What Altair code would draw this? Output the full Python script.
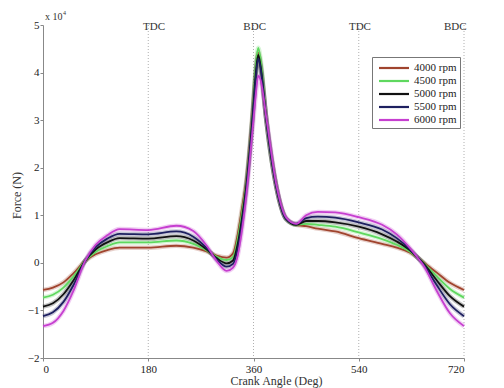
import altair as alt
import pandas as pd

angles = [0, 17, 35, 52, 72, 90, 110, 131, 180, 228, 257, 280, 297, 314, 325, 333, 341, 348, 358, 364,
          368, 372, 382, 399, 416, 433, 450, 470, 500, 540, 580, 605, 627, 640, 650, 673, 696, 720]

rpm_labels = ["4000 rpm", "4500 rpm", "5000 rpm", "5500 rpm", "6000 rpm"]

f4000 = [-0.57, -0.52, -0.41, -0.22, 0.04, 0.18, 0.27, 0.32, 0.32, 0.36, 0.32, 0.24, 0.15, 0.11, 0.2,
         0.6, 1.2, 1.75, 3.1, 4.05, 4.42, 4.2, 3.0, 1.6, 0.92, 0.8, 0.77, 0.72, 0.66, 0.52,
         0.40, 0.32, 0.22, 0.12, 0.02, -0.2, -0.42, -0.57]
f4500 = [-0.73, -0.67, -0.52, -0.29, 0.04, 0.23, 0.35, 0.43, 0.43, 0.47, 0.40, 0.26, 0.13, 0.06, 0.12,
         0.5, 1.1, 1.7, 3.05, 4.15, 4.52, 4.3, 3.0, 1.6, 0.92, 0.8, 0.82, 0.8, 0.76, 0.64,
         0.50, 0.38, 0.24, 0.12, 0.01, -0.28, -0.55, -0.73]
f5000 = [-0.92, -0.85, -0.66, -0.37, 0.04, 0.28, 0.43, 0.52, 0.51, 0.56, 0.47, 0.28, 0.10, -0.01, 0.05,
         0.4, 1.0, 1.65, 3.0, 4.0, 4.37, 4.15, 3.0, 1.6, 0.92, 0.8, 0.88, 0.88, 0.85, 0.76,
         0.60, 0.45, 0.27, 0.12, 0.0, -0.36, -0.70, -0.92]
f5500 = [-1.12, -1.04, -0.82, -0.47, 0.04, 0.33, 0.51, 0.61, 0.60, 0.66, 0.55, 0.31, 0.07, -0.08, -0.02,
         0.3, 0.9, 1.6, 2.95, 3.9, 4.3, 4.1, 3.0, 1.6, 0.92, 0.82, 0.94, 0.97, 0.95, 0.85,
         0.70, 0.52, 0.29, 0.12, -0.02, -0.46, -0.87, -1.12]
f6000 = [-1.33, -1.26, -1.01, -0.59, 0.04, 0.38, 0.58, 0.71, 0.69, 0.78, 0.67, 0.36, 0.04, -0.17, -0.1,
         0.15, 0.75, 1.45, 2.75, 3.55, 3.93, 3.85, 3.05, 1.65, 0.95, 0.82, 1.0, 1.07, 1.06, 0.96,
         0.80, 0.60, 0.32, 0.12, -0.04, -0.58, -1.06, -1.33]

series = [f4000, f4500, f5000, f5500, f6000]
colors = ["#a0442e", "#5fd85f", "#111111", "#1e2060", "#c63fd0"]

x_ticks = [0, 180, 360, 540, 720]
y_ticks = [-2, -1, 0, 1, 2, 3, 4, 5]
grid_x = [180, 360, 540, 720]
marker_names = ["TDC", "BDC", "TDC", "BDC"]
marker_x = [190, 362, 542, 705]

rows = []
for lab, vals in zip(rpm_labels, series):
    for a, v in zip(angles, vals):
        rows.append({"angle": a, "force": v, "rpm": lab})
df = pd.DataFrame(rows)

FONT = "Liberation Serif"

xscale = alt.Scale(domain=[0, 720], nice=False, zero=False)
yscale = alt.Scale(domain=[-2, 5], nice=False, zero=False)

color_enc = alt.Color(
    "rpm:N", scale=alt.Scale(domain=rpm_labels, range=colors),
    legend=alt.Legend(title=None, orient="none", legendX=329, legendY=32,
                      symbolType="M-2.22,0H2.22", symbolSize=182, symbolStrokeWidth=2.2,
                      symbolOffset=11, symbolOpacity=1,
                      labelFont=FONT, labelFontSize=11, labelColor="#222",
                      rowPadding=0, padding=3, strokeColor="#777",
                      fillColor="white", labelOffset=12))

x_enc = alt.X("angle:Q", scale=xscale,
              axis=alt.Axis(values=x_ticks, title="Crank Angle (Deg)", grid=False,
                            titleX=233, titleY=22, titleBaseline="middle",
                            labelPadding=2, tickSize=3))
y_enc = alt.Y("force:Q", scale=yscale,
              axis=alt.Axis(values=y_ticks, title="Force (N)", grid=False,
                            titleX=-20, titleY=170, labelPadding=1, tickSize=3))

grid = alt.Chart(pd.DataFrame({"g": grid_x})).mark_rule(
    color="#b0b0b0", strokeDash=[1, 2], strokeWidth=1
).encode(x=alt.X("g:Q", scale=xscale))

halo = alt.Chart(df).mark_line(interpolate="monotone", strokeWidth=4.5, opacity=0.25).encode(
    x=x_enc, y=y_enc, color=color_enc, order=alt.Order("rpm:N"),
)

lines = alt.Chart(df).mark_line(interpolate="monotone", strokeWidth=1.8).encode(
    x=x_enc, y=y_enc, color=color_enc, order=alt.Order("rpm:N"),
)

markers = alt.Chart(pd.DataFrame({"x": marker_x, "t": marker_names})).mark_text(
    font=FONT, fontSize=11, color="#333", baseline="middle", align="center"
).encode(x=alt.X("x:Q", scale=xscale), y=alt.value(2), text="t:N")

exp_base = alt.Chart(pd.DataFrame({"t": ["x 10"]})).mark_text(
    font=FONT, fontSize=10, color="#333", align="left", baseline="middle"
).encode(x=alt.value(2), y=alt.value(-8), text="t:N")
exp_sup = alt.Chart(pd.DataFrame({"t": ["4"]})).mark_text(
    font=FONT, fontSize=6, color="#333", align="left", baseline="middle"
).encode(x=alt.value(20), y=alt.value(-12), text="t:N")

chart = alt.layer(grid, halo, lines, markers, exp_base, exp_sup).properties(
    width=421, height=333,
    background="white",
    autosize=alt.AutoSizeParams(type="none"),
    padding={"left": 43, "top": 25, "right": 40, "bottom": 30},
).configure_view(stroke=None).configure_axis(
    labelFont=FONT, titleFont=FONT, labelFontSize=11, titleFontSize=12,
    labelColor="#222", titleColor="#333", domainColor="#888", tickColor="#888",
    titleFontWeight="normal"
)

chart.save("out.html", embed_options={"renderer": "svg", "actions": False})
